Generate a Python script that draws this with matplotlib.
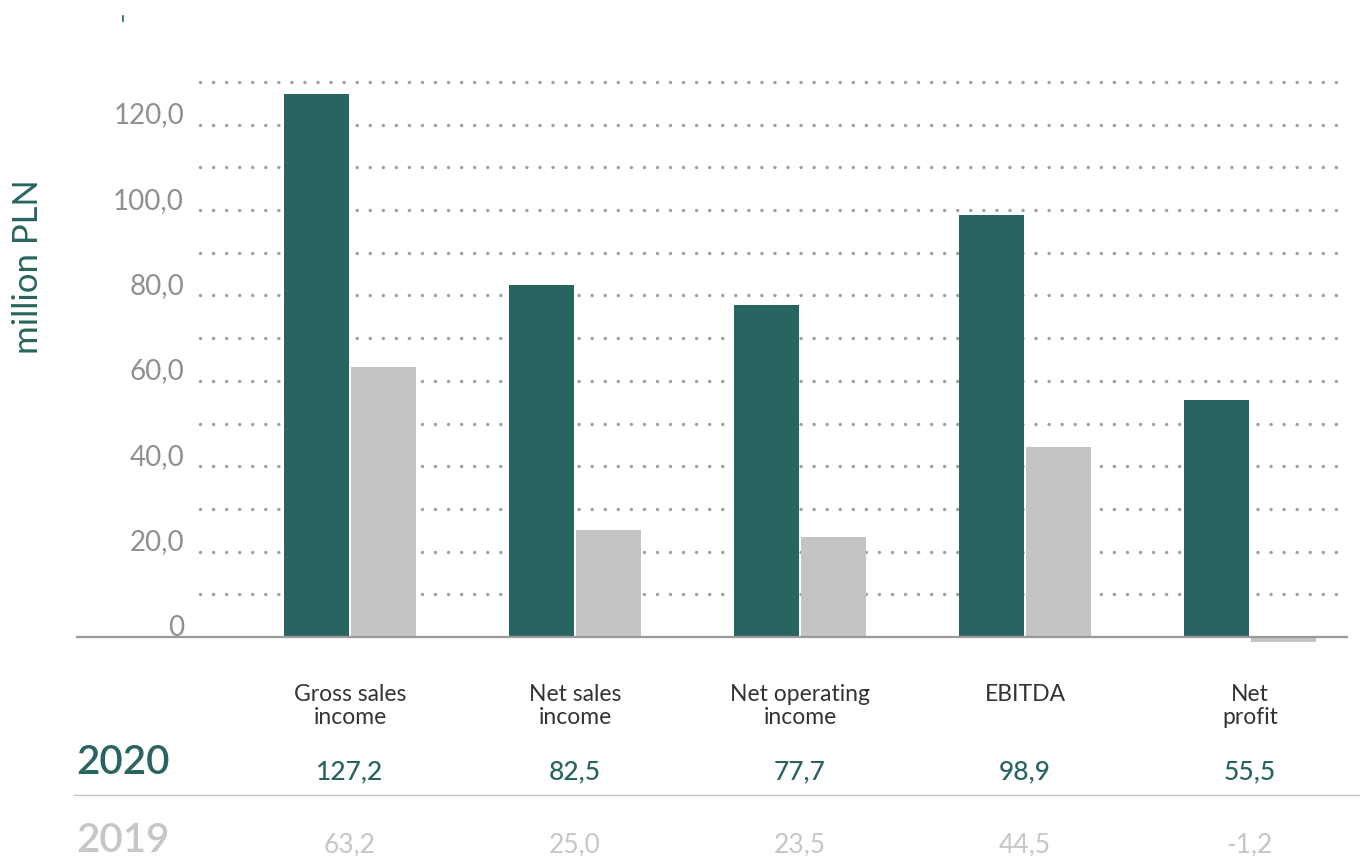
import matplotlib
matplotlib.use('Agg')
import matplotlib.pyplot as plt
import matplotlib.transforms as mtransforms
from matplotlib.lines import Line2D
import numpy as np

plt.rcParams['font.family'] = ['Lato', 'DejaVu Sans']

# dane
categories = ['Gross sales\nincome', 'Net sales\nincome', 'Net operating\nincome', 'EBITDA', 'Net\nprofit']
values_2020 = [127.2, 82.5, 77.7, 98.9, 55.5]
values_2019 = [63.2, 25.0, 23.5, 44.5, -1.2]
labels_2020 = ['127,2', '82,5', '77,7', '98,9', '55,5']
labels_2019 = ['63,2', '25,0', '23,5', '44,5', '-1,2']
y_ticks = [0, 20, 40, 60, 80, 100, 120]
y_tick_labels = ['0', '20,0', '40,0', '60,0', '80,0', '100,0', '120,0']
grid_levels = np.arange(10, 131, 10)

TEAL = '#286460'
GRAY_BAR = '#c3c4c6'
DOT = '#a0a0a5'
TICK = '#909090'
LIGHT = '#c6c6c6'

W, H = 1360, 859
fig = plt.figure(figsize=(W / 100, H / 100), dpi=100)

# os w pikselach: 0 na y=637, 4.27 px na jednostke
ppu = 4.27
ymin, ymax = -5, 135
bottom_px = 637 + (-ymin) * ppu
height_px = (ymax - ymin) * ppu
ax = fig.add_axes([76 / W, (H - bottom_px) / H, 1272 / W, height_px / H])

x = np.arange(len(categories))
step = 225.0
ax.set_xlim((76 - 350) / step, (1348 - 350) / step)
ax.set_ylim(ymin, ymax)

bw = 65 / step
off = 33.5 / step
ax.bar(x - off, values_2020, width=bw, color=TEAL, zorder=3)
ax.bar(x + off, values_2019, width=bw, color=GRAY_BAR, zorder=3)

# kropkowana siatka
grid_x0 = (200 - 350) / step
ax.hlines(grid_levels, grid_x0, ax.get_xlim()[1], colors=DOT, linewidth=2.5,
          linestyles=[(0, (0.01, 3.75))], zorder=1)
for coll in ax.collections:
    coll.set_capstyle('round')
ax.axhline(0, color='#9a9a9a', linewidth=1.6, zorder=4)

for s in ax.spines.values():
    s.set_visible(False)
ax.set_xticks([])
ax.set_yticks([])

# etykiety osi y
lab_x = (184 - 350) / step
for v, t in zip(y_ticks, y_tick_labels):
    ax.text(lab_x, v + 0.3, t, ha='right', va='baseline', fontsize=20,
            color=TICK, zorder=5)

fig.text(28 / W, 1 - 267 / H, 'million PLN', rotation=90, ha='center', va='center',
         fontsize=25, color=TEAL)

# tabela pod wykresem
tr = mtransforms.blended_transform_factory(ax.transData, fig.transFigure)
for i, c in enumerate(categories):
    ax.text(x[i], 1 - 684 / H, c, transform=tr, ha='center', va='top', fontsize=16.5,
            color='#333333', linespacing=1.1, clip_on=False)
    ax.text(x[i], 1 - 772 / H, labels_2020[i], transform=tr, ha='center', va='center',
            fontsize=19, color=TEAL, fontweight='medium', clip_on=False)
    ax.text(x[i], 1 - 845 / H, labels_2019[i], transform=tr, ha='center', va='center',
            fontsize=19, color=LIGHT, clip_on=False)

fig.text(76 / W, 1 - 763 / H, '2020', ha='left', va='center', fontsize=29,
         color=TEAL, fontweight='semibold')
fig.text(76 / W, 1 - 841 / H, '2019', ha='left', va='center', fontsize=29,
         color=LIGHT, fontweight='semibold')
fig.add_artist(Line2D([74 / W, 1.0], [1 - 795 / H, 1 - 795 / H], color='#c4c4c4',
                      linewidth=1.0, transform=fig.transFigure))
fig.add_artist(Line2D([123 / W, 123 / W], [1 - 16 / H, 1 - 21 / H], color=TEAL,
                      linewidth=1.2, transform=fig.transFigure))

fig.savefig('out.png', dpi=100)
